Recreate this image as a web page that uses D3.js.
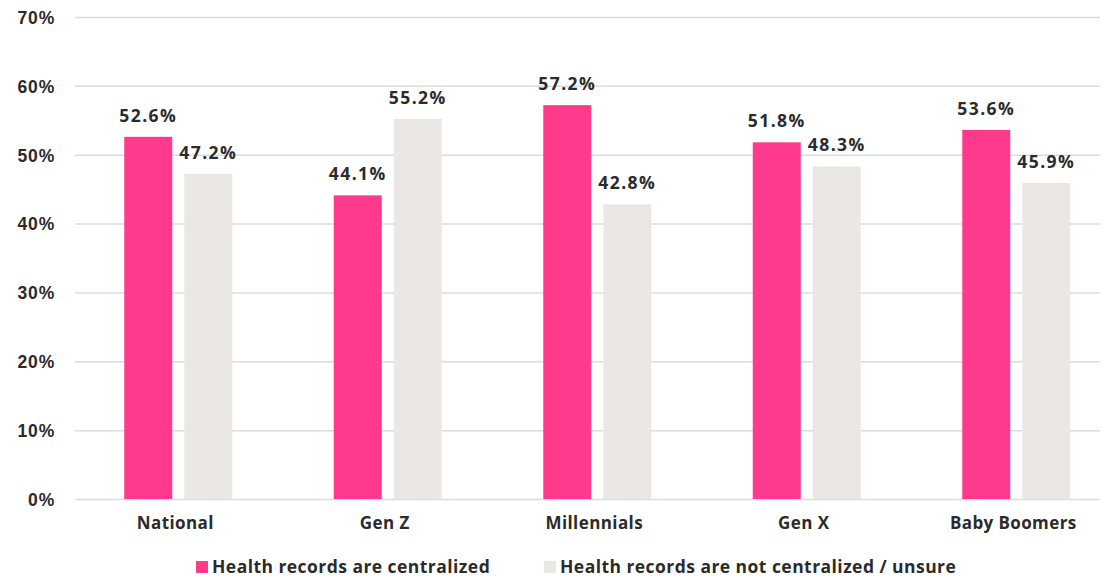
<!DOCTYPE html>
<html>
<head>
<meta charset="utf-8">
<script src="https://cdn.jsdelivr.net/npm/d3@7"></script>
<style>
  html, body { margin: 0; padding: 0; background: #fff; }
  svg { display: block; font-family: "Open Sans", "Lato", sans-serif; }
</style>
</head>
<body>
<svg id="chart" width="1102" height="578"></svg>
<script>
// Survey share by generation
const categories = ["National", "Gen Z", "Millennials", "Gen X", "Baby Boomers"];
const seriesNames = ["Health records are centralized", "Health records are not centralized / unsure"];
const centralized = [52.6, 44.1, 57.2, 51.8, 53.6];
const notCentralized = [47.2, 55.2, 42.8, 48.3, 45.9];
const yTicks = [0, 10, 20, 30, 40, 50, 60, 70];
const colors = ["#FF3A8C", "#EBE7E4"];

const svg = d3.select("#chart");
const textColor = "#2b2b2b";

const x0 = d3.scaleBand().domain(categories).range([70.5, 1118]).padding(0);
const bw = x0.bandwidth();
// two bars of 48px with a 12px gap, group nudged slightly right of the label centre
const x1 = d3.scaleBand().domain(seriesNames)
  .range([bw / 2 - 54 + 3, bw / 2 + 54 + 3]).paddingInner(0.2);
const y = d3.scaleLinear().domain([0, 70]).range([499, 17]);

// gridlines + y labels
const yAxis = d3.axisLeft(y).tickValues(yTicks).tickFormat(d => d + "%")
  .tickSize(-1025).tickPadding(20);
const gy = svg.append("g").attr("transform", "translate(75,0)").call(yAxis);
gy.select(".domain").remove();
gy.selectAll(".tick line").attr("stroke", "#dcdcdc").attr("stroke-width", 1.5);
gy.selectAll(".tick text")
  .attr("fill", textColor).attr("font-size", 17.5).attr("font-weight", 700)
  .attr("letter-spacing", "0.8px")
  .attr("x", -20).attr("dy", "0.36em");

// bars
const data = categories.map((c, i) => ({
  cat: c,
  vals: [
    { s: seriesNames[0], v: centralized[i], k: 0 },
    { s: seriesNames[1], v: notCentralized[i], k: 1 }
  ]
}));

const groups = svg.append("g").selectAll("g").data(data).join("g")
  .attr("transform", d => `translate(${x0(d.cat)},0)`);

groups.selectAll("rect").data(d => d.vals).join("rect")
  .attr("x", d => x1(d.s))
  .attr("width", x1.bandwidth())
  .attr("y", d => y(d.v))
  .attr("height", d => y(0) - y(d.v))
  .attr("fill", d => colors[d.k]);

groups.selectAll("text.val").data(d => d.vals).join("text")
  .attr("class", "val")
  .attr("x", d => x1(d.s) + x1.bandwidth() / 2)
  .attr("y", d => y(d.v) - 15)
  .attr("text-anchor", "middle")
  .attr("fill", textColor).attr("font-size", 17.5).attr("font-weight", 700)
  .attr("letter-spacing", "1.4px")
  .text(d => d.v.toFixed(1) + "%");

// x axis labels
const xAxis = d3.axisBottom(x0).tickSize(0).tickPadding(0);
const gx = svg.append("g").attr("transform", "translate(0,499)").call(xAxis);
gx.select(".domain").remove();
gx.selectAll(".tick text")
  .attr("fill", textColor).attr("font-size", 17).attr("font-weight", 700)
  .attr("font-family", "\"Open Sans\", sans-serif")
  .attr("letter-spacing", "0.4px")
  .attr("y", 30).attr("dy", 0);

// legend
const legendX = [196, 544];
const legend = svg.append("g").selectAll("g").data(seriesNames).join("g")
  .attr("transform", (d, i) => `translate(${legendX[i]},561)`);
legend.append("rect").attr("width", 12).attr("height", 12)
  .attr("fill", (d, i) => colors[i]);
legend.append("text").attr("x", 16).attr("y", 12)
  .attr("fill", textColor).attr("font-size", 17.5).attr("font-weight", 700)
  .attr("letter-spacing", "0.45px")
  .text(d => d);
</script>
</body>
</html>
